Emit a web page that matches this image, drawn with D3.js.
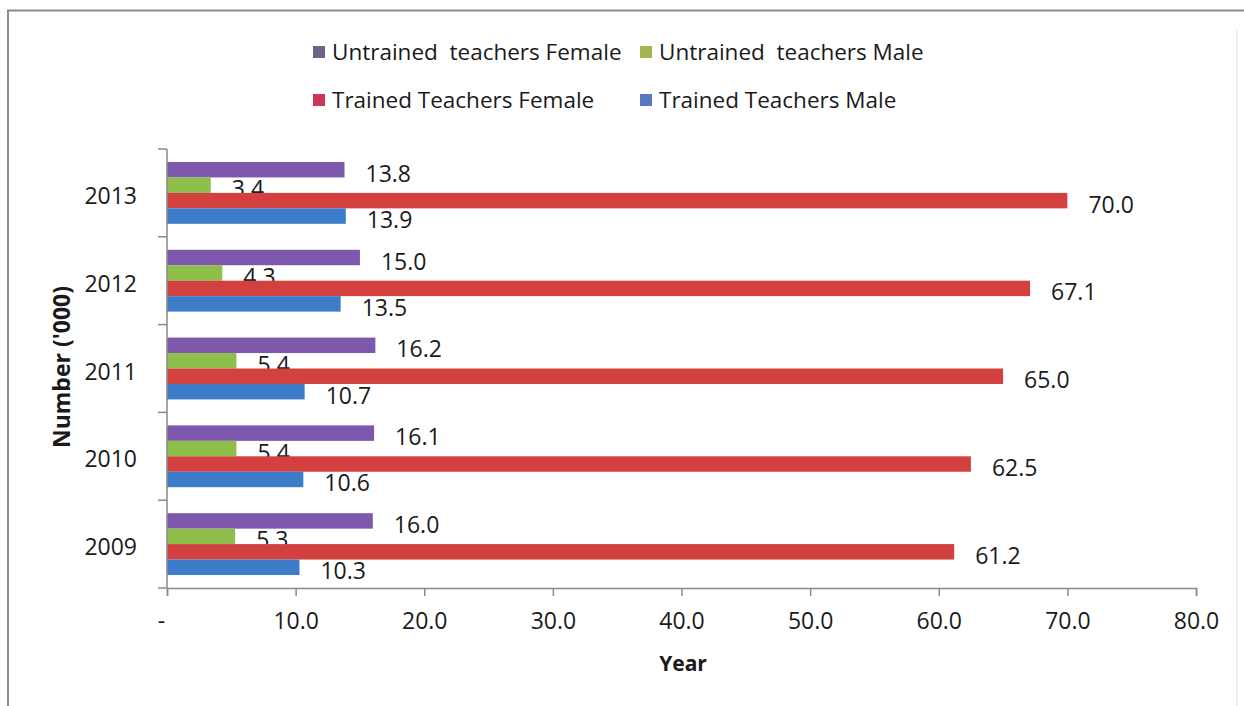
<!DOCTYPE html>
<html>
<head>
<meta charset="utf-8">
<script src="https://cdn.jsdelivr.net/npm/d3@7"></script>
<style>
  body { margin: 0; background: #fff; }
  svg text { font-family: "Open Sans", "Noto Sans", sans-serif; fill: #1a1a1a; }
</style>
</head>
<body>
<svg id="chart" width="1244" height="706"></svg>
<script>
// chart data, values in thousands
var years = ["2009", "2010", "2011", "2012", "2013"];
var seriesNames = ["Untrained  teachers Female", "Untrained  teachers Male",
                   "Trained Teachers Female", "Trained Teachers Male"];
var seriesColors = ["#7d58ad", "#8fbf4b", "#d2413f", "#3d7cc9"];
var legendColors = ["#6f6488", "#a2b553", "#c9385a", "#5978bf"];
var untrainedFemale = [16.0, 16.1, 16.2, 15.0, 13.8];
var untrainedMale = [5.3, 5.4, 5.4, 4.3, 3.4];
var trainedFemale = [61.2, 62.5, 65.0, 67.1, 70.0];
var trainedMale = [10.3, 10.6, 10.7, 13.5, 13.9];
var xTicks = [0, 10, 20, 30, 40, 50, 60, 70, 80];

var seriesValues = [untrainedFemale, untrainedMale, trainedFemale, trainedMale];

var svg = d3.select("#chart");

//outer frame of the pasted chart
svg.append("path")
  .attr("d", "M8,706 V10.5 H1244")
  .attr("fill", "none")
  .attr("stroke", "#8c8c8c")
  .attr("stroke-width", 2);
svg.append("line")
  .attr("x1", 1237).attr("x2", 1237).attr("y1", 30).attr("y2", 706)
  .attr("stroke", "#f0f0f0").attr("stroke-width", 2);

var plot = {left: 167, right: 1196, top: 149, bottom: 588};

var x = d3.scaleLinear().domain([0, 80]).range([plot.left, plot.right]);

//2013 sits on top like Excel
var y = d3.scaleBand()
  .domain(years.slice().reverse())
  .range([plot.top, plot.bottom])
  .paddingInner(0);

var inner = d3.scaleBand()
  .domain(d3.range(4))
  .range([0, y.bandwidth()])
  .paddingInner(0)
  .paddingOuter(0.84);

//bars
seriesValues.forEach(function(vals, s){
  var g = svg.append("g").attr("class", "series");
  g.selectAll("rect")
    .data(years.map(function(yr, i){ return {year: yr, v: vals[i]}; }))
    .enter().append("rect")
    .attr("x", x(0))
    .attr("y", function(d){ return y(d.year) + inner(s); })
    .attr("width", function(d){ return x(d.v) - x(0); })
    .attr("height", inner.bandwidth())
    .attr("fill", seriesColors[s]);

  g.selectAll("text")
    .data(years.map(function(yr, i){ return {year: yr, v: vals[i]}; }))
    .enter().append("text")
    .attr("x", function(d){ return x(d.v) + 21; })
    .attr("y", function(d){ return y(d.year) + inner(s) + inner.bandwidth()/2 + 3; })
    .attr("dominant-baseline", "central")
    .attr("font-size", "23px")
    .text(function(d){ return d.v.toFixed(1); });
});

//x axis
var xAxis = d3.axisBottom(x)
  .tickValues(xTicks)
  .tickSize(8)
  .tickPadding(17)
  .tickFormat(function(d){ return d === 0 ? "-" : d.toFixed(1); });

var gx = svg.append("g")
  .attr("transform", "translate(0," + plot.bottom + ")")
  .call(xAxis);
gx.select(".domain").attr("stroke", "#8a8a8a").attr("stroke-width", 1.5);
gx.selectAll(".tick line").attr("stroke", "#8a8a8a").attr("stroke-width", 1.5);
gx.selectAll(".tick text")
  .attr("font-size", "23px")
  .attr("font-family", "'Open Sans', sans-serif")
  .attr("fill", "#1a1a1a");
gx.selectAll(".tick").filter(function(d){ return d === 0; }).select("text")
  .attr("dx", -6);

//y axis: ticks at the band boundaries
var gy = svg.append("g").attr("transform", "translate(" + plot.left + ",0)");
gy.append("line")
  .attr("y1", plot.top).attr("y2", plot.bottom)
  .attr("stroke", "#8a8a8a").attr("stroke-width", 1.5);
var bounds = years.map(function(yr){ return y(yr); }).concat([plot.bottom]);
gy.selectAll(".ytick")
  .data(bounds)
  .enter().append("line")
  .attr("class", "ytick")
  .attr("x1", -9).attr("x2", 0)
  .attr("y1", function(d){ return d; }).attr("y2", function(d){ return d; })
  .attr("stroke", "#8a8a8a").attr("stroke-width", 1.5);
gy.selectAll(".ylab")
  .data(years)
  .enter().append("text")
  .attr("class", "ylab")
  .attr("x", -30)
  .attr("y", function(d){ return y(d) + y.bandwidth()/2 + 2; })
  .attr("text-anchor", "end")
  .attr("dominant-baseline", "central")
  .attr("font-size", "23px")
  .text(function(d){ return d; });

//axis titles
svg.append("text")
  .attr("x", 683).attr("y", 663)
  .attr("text-anchor", "middle")
  .attr("dominant-baseline", "central")
  .attr("font-size", "21px")
  .attr("font-weight", "bold")
  .text("Year");

svg.append("text")
  .attr("transform", "translate(61,367) rotate(-90)")
  .attr("text-anchor", "middle")
  .attr("dominant-baseline", "central")
  .attr("font-size", "23px")
  .attr("font-weight", "bold")
  .text("Number ('000)");

//legend, two rows of two
var legendPos = [[313, 51], [640, 51], [313, 99], [640, 99]];
var legend = svg.append("g").attr("class", "legend");
seriesNames.forEach(function(name, i){
  var p = legendPos[i];
  legend.append("rect")
    .attr("x", p[0]).attr("y", p[1] - 5)
    .attr("width", 12).attr("height", 12)
    .attr("fill", legendColors[i]);
  legend.append("text")
    .attr("x", p[0] + 19).attr("y", p[1])
    .attr("dominant-baseline", "central")
    .attr("font-size", "22.5px")
    .attr("xml:space", "preserve")
    .style("white-space", "pre")
    .text(name);
});
</script>
</body>
</html>
